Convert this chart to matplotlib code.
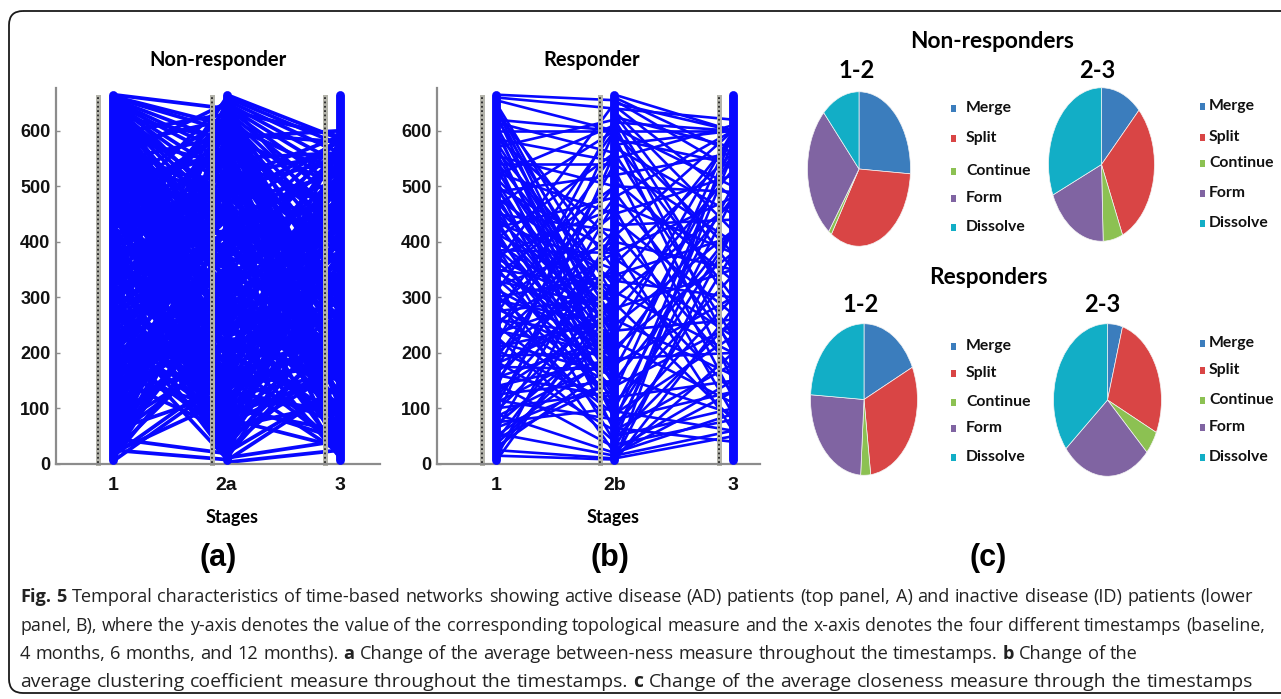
"""Fig. 5 重绘：两个时间网络面板 (a)(b) + 四个事件饼图 (c) + 图注。"""

import matplotlib
matplotlib.use("Agg")
import matplotlib.pyplot as plt
from matplotlib.collections import LineCollection
from matplotlib.patches import FancyBboxPatch, Rectangle


W, H = 1281, 699
BLUE = "#0808ff"
AXIS_GRAY = "#8c8c8c"
TICK_FONT = ["Liberation Sans", "DejaVu Sans"]
HEAD_FONT = ["Lato", "DejaVu Sans"]
CAPTION_FONT = ["Open Sans", "DejaVu Sans"]

# ---- 数据 ----
STAGE_LABELS_A = ["1", "2a", "3"]
STAGE_LABELS_B = ["1", "2b", "3"]
Y_TICKS = [0, 100, 200, 300, 400, 500, 600]
NODE_SPAN = (8, 664)      # 每个阶段的节点编号范围
LABEL_SPAN = (2, 660)     # 节点标签列

# 面板 a：阶段 1 -> 2a 的连边 (源节点, 目标节点)
A_EDGES_12 = [
    (665, 640), (662, 610), (660, 600), (657, 580), (655, 560), (652, 545), (650, 520), (648, 500),
    (645, 470), (642, 450), (640, 430), (637, 400), (635, 380), (632, 350), (630, 330), (627, 310),
    (625, 290), (622, 270), (620, 250), (618, 230), (615, 210), (612, 190), (610, 170), (608, 150),
    (605, 130), (603, 115), (600, 100), (598, 80),
    (595, 630), (590, 540), (585, 470), (580, 400), (575, 330), (570, 260), (565, 190), (560, 120),
    (555, 60), (550, 650), (545, 590), (540, 510), (535, 440), (530, 360), (525, 300), (520, 230),
    (515, 160), (510, 90), (505, 40), (500, 620),
    (495, 560), (490, 480), (485, 410), (480, 340), (475, 270), (470, 200), (465, 140), (460, 80),
    (455, 30), (450, 655), (445, 600), (440, 520), (435, 450), (430, 380), (425, 310), (420, 250),
    (415, 180), (410, 110), (405, 50), (400, 640),
    (395, 575), (390, 495), (385, 420), (380, 355), (375, 290), (370, 220), (365, 160), (360, 95),
    (355, 35), (350, 660), (345, 610), (340, 530), (335, 460), (330, 390), (325, 320), (320, 240),
    (315, 170), (310, 105), (305, 45), (300, 600),
    (295, 545), (290, 470), (285, 400), (280, 335), (275, 265), (270, 205), (265, 150), (260, 85),
    (255, 25), (250, 650), (245, 580), (240, 505), (235, 440), (230, 370), (225, 300), (220, 235),
    (215, 175), (210, 115), (205, 55), (200, 625),
    (195, 560), (190, 490), (185, 420), (180, 350), (175, 280), (170, 215), (165, 160), (160, 100),
    (155, 60), (150, 640), (145, 590), (140, 520), (135, 455), (130, 385), (125, 315), (120, 245),
    (115, 180), (100, 610),
    (90, 540), (85, 470), (80, 400), (75, 330), (70, 260), (65, 195), (60, 130), (46, 19),
    (50, 580), (45, 500), (40, 430), (35, 360), (30, 290), (25, 8), (20, 225), (15, 160),
    (10, 260), (5, 150), (3, 640), (20, 115),
    (648, 20), (590, 15), (530, 12), (470, 10), (410, 8), (350, 12), (290, 14), (230, 10),
    (658, 350), (612, 60), (572, 620), (538, 290), (498, 200), (468, 600), (442, 300), (412, 520),
    (388, 130), (362, 470), (338, 250), (318, 560), (292, 100), (268, 420), (242, 190), (218, 500),
    (192, 70), (168, 380), (142, 260), (118, 470), (96, 300), (72, 560), (48, 200), (28, 400),
    (12, 330), (632, 480), (582, 200), (548, 380), (512, 270), (478, 150), (452, 380), (428, 560),
    (398, 260), (372, 590), (342, 170), (312, 440), (282, 610), (252, 350), (222, 80), (198, 300),
    (664, 455), (646, 240), (628, 585), (606, 330), (588, 430), (568, 90), (552, 480), (532, 200),
    (508, 560), (488, 120), (472, 410), (448, 230), (432, 620), (408, 330), (392, 60), (378, 450),
    (352, 280), (332, 560), (308, 200), (288, 520), (262, 330), (238, 130), (212, 420), (188, 250),
    (162, 560), (138, 330), (112, 420), (88, 210), (62, 480), (38, 300), (18, 520), (8, 400),
]

# 面板 a：阶段 2a -> 3
A_EDGES_23 = [
    (665, 585), (660, 575), (655, 560), (650, 540), (645, 520), (640, 495), (635, 470), (630, 440),
    (625, 410), (620, 380), (615, 350), (610, 310), (605, 270), (600, 230), (662, 190), (657, 150),
    (652, 110), (647, 70), (642, 35), (637, 590),
    (595, 580), (590, 500), (585, 420), (580, 350), (575, 280), (570, 210), (565, 140), (560, 70),
    (555, 20), (550, 560), (545, 470), (540, 390), (535, 320), (530, 250), (525, 180), (520, 110),
    (515, 45), (510, 590), (505, 430), (500, 300),
    (495, 550), (490, 480), (485, 400), (480, 330), (475, 260), (470, 190), (465, 120), (460, 60),
    (455, 15), (450, 585), (445, 510), (440, 440), (435, 370), (430, 300), (425, 230), (420, 160),
    (415, 90), (410, 30), (405, 460), (400, 210),
    (395, 570), (390, 490), (385, 410), (380, 340), (375, 270), (370, 200), (365, 130), (360, 65),
    (355, 10), (350, 590), (345, 520), (340, 450), (335, 380), (330, 310), (325, 240), (320, 170),
    (315, 100), (310, 40), (305, 480), (300, 150),
    (295, 560), (290, 470), (285, 395), (280, 325), (275, 255), (270, 185), (265, 120), (260, 55),
    (255, 12), (250, 580), (245, 505), (240, 430), (235, 360), (230, 290), (225, 220), (220, 150),
    (215, 85), (210, 30), (205, 450), (200, 330),
    (195, 550), (190, 475), (185, 400), (180, 330), (175, 260), (170, 195), (165, 130), (160, 70),
    (155, 20), (150, 585), (145, 510), (140, 440), (135, 370), (130, 300), (125, 230), (120, 165),
    (115, 100), (110, 45), (105, 490), (100, 60),
    (95, 520), (90, 450), (85, 380), (80, 310), (75, 240), (70, 175), (65, 110), (82, 30),
    (50, 560), (45, 480), (40, 410), (35, 340), (30, 270), (25, 200), (20, 140), (11, 42),
    (6, 139), (5, 580), (3, 25),
    (648, 300), (618, 100), (588, 600), (552, 250), (518, 560), (482, 80), (448, 280), (418, 540),
    (392, 180), (362, 420), (332, 100), (308, 560), (282, 200), (258, 470), (232, 60), (208, 380),
    (182, 520), (158, 240), (132, 90), (108, 360), (88, 160), (62, 420), (38, 230), (18, 500),
    (8, 330), (628, 160), (578, 40), (542, 300), (508, 140), (472, 520), (438, 200), (402, 590),
    (378, 80), (342, 260), (298, 20), (262, 380), (228, 540), (188, 30), (142, 280),
    (658, 420), (632, 250), (612, 520), (592, 180), (568, 450), (548, 110), (528, 380), (498, 240),
    (478, 580), (458, 330), (432, 120), (412, 470), (388, 300), (368, 560), (338, 180), (318, 420),
    (292, 90), (272, 520), (248, 320), (222, 460), (198, 110), (172, 400), (148, 180), (122, 530),
    (98, 260), (72, 360), (48, 170), (28, 450), (14, 240),
]

# 面板 b：阶段 1 -> 2b
B_EDGES_12 = [
    (665, 655), (660, 640), (655, 600), (650, 300), (645, 250), (640, 210), (635, 350), (630, 180),
    (625, 280), (620, 600), (615, 560), (610, 230), (605, 150), (600, 600), (598, 190), (590, 400),
    (585, 545), (580, 260), (575, 140), (570, 620), (565, 320), (560, 200), (555, 500), (550, 100),
    (545, 280), (540, 540), (535, 160), (530, 230), (525, 450), (520, 610), (515, 300), (510, 180),
    (505, 80), (500, 380), (495, 250), (490, 520), (485, 140), (480, 330), (475, 210), (470, 60),
    (465, 600), (460, 270), (455, 170), (450, 420), (445, 240), (440, 120), (435, 350), (430, 200),
    (425, 480), (420, 90), (415, 300), (410, 160), (405, 560), (400, 250), (395, 40), (390, 200),
    (385, 380), (380, 130), (375, 460), (370, 270), (365, 180), (360, 650), (355, 100), (350, 320),
    (345, 230), (340, 500), (335, 150), (330, 280), (325, 20), (320, 400), (315, 200), (310, 600),
    (305, 120), (300, 340), (295, 250), (290, 70), (285, 450), (280, 180), (275, 300), (270, 560),
    (265, 140), (260, 230), (255, 380), (250, 90), (245, 500), (240, 200), (235, 310), (230, 40),
    (225, 420), (220, 160), (215, 620), (210, 260), (205, 110), (200, 350), (195, 200), (190, 480),
    (185, 60), (180, 280), (175, 170), (170, 540), (165, 320), (160, 120), (155, 230), (150, 400),
    (145, 30), (140, 190), (135, 600), (130, 270), (125, 150), (120, 360), (115, 80), (110, 220),
    (105, 470), (100, 130), (95, 300), (90, 20), (85, 190), (80, 560), (75, 100), (70, 250),
    (65, 150), (60, 420), (55, 15), (50, 200), (45, 150), (40, 330), (35, 240), (30, 180),
    (25, 10), (20, 280), (15, 8), (10, 420), (5, 300),
]

# 面板 b：阶段 2b -> 3
B_EDGES_23 = [
    (665, 600), (660, 560), (655, 530), (650, 600), (645, 480), (640, 620), (635, 420), (630, 350),
    (625, 570), (620, 280), (615, 600), (610, 200), (605, 500), (600, 600), (595, 380), (590, 150),
    (585, 540), (580, 300), (575, 600), (570, 450), (560, 230), (550, 610), (540, 400), (530, 120),
    (520, 560), (510, 330), (500, 490), (490, 210), (480, 600), (470, 380), (460, 90), (450, 520),
    (440, 270), (430, 440), (420, 170), (410, 600), (400, 350), (390, 60), (380, 480), (370, 230),
    (360, 560), (350, 130), (340, 410), (330, 300), (320, 590), (310, 200), (300, 470), (290, 80),
    (280, 350), (270, 530), (260, 160), (250, 420), (240, 260), (230, 600), (220, 110), (210, 380),
    (200, 480), (190, 200), (180, 300), (170, 560), (160, 90), (150, 420), (140, 250), (130, 600),
    (120, 150), (110, 340), (100, 500), (95, 60), (90, 230), (85, 420), (80, 130), (75, 580),
    (70, 300), (65, 40), (60, 180), (55, 480), (50, 100), (45, 260), (40, 560), (35, 80),
    (30, 380), (25, 150), (20, 90), (15, 60), (10, 50), (5, 280), (3, 600), (8, 420),
    (12, 200), (18, 130),
]

# 面板 c：事件类别与占比 (%)
EVENTS = ["Merge", "Split", "Continue", "Form", "Dissolve"]
EVENT_COLORS = ["#3b7dbd", "#d94545", "#8cc152", "#8064a2", "#12aec6"]
NR_12 = [26, 33, 1, 28, 12]
NR_23 = [12.5, 31, 6, 19, 31.5]
R_12 = [18, 30, 3, 25, 24]
R_23 = [4.5, 27.5, 5, 27, 36]

CAPTION_LINES = [
    [("Fig. 5", True),
     ("Temporal characteristics of time-based networks showing active disease (AD) patients "
      "(top panel, A) and inactive disease (ID) patients (lower", False)],
    [("panel, B), where the y-axis denotes the value of the corresponding topological measure "
      "and the x-axis denotes the four different timestamps (baseline,", False)],
    [("4 months, 6 months, and 12 months).", False), ("a", True),
     ("Change of the average between-ness measure throughout the timestamps.", False), ("b", True),
     ("Change of the", False)],
    [("average clustering coefficient measure throughout the timestamps.", False), ("c", True),
     ("Change of the average closeness measure through the timestamps", False)],
]
CAPTION_RIGHT = [1253, 1265, 1138, 1253]
CAPTION_Y = [597, 626, 654, 682]


def px_axes(fig, x0, y0, x1, y1):
    """按像素框 (左, 上, 右, 下) 建坐标轴。"""
    return fig.add_axes([x0 / W, 1 - y1 / H, (x1 - x0) / W, (y1 - y0) / H])


def plot_network(ax, edges12, edges23, stage_labels, xlim, label_off, lw):
    segs = [[(1, a), (2, b)] for a, b in edges12] + [[(2, a), (3, b)] for a, b in edges23]
    ax.add_collection(LineCollection(segs, colors=BLUE, linewidths=lw, capstyle="round", zorder=2))
    for s in (1, 2, 3):
        ax.plot([s, s], NODE_SPAN, color=BLUE, lw=6.4, solid_capstyle="round", zorder=3, clip_on=False)
        ax.plot([s - label_off] * 2, LABEL_SPAN, color="#b4b4ab", lw=3.6, zorder=2.4, clip_on=False)
        ax.plot([s - label_off] * 2, LABEL_SPAN, color="#262626", lw=1.3, ls=(0, (1, 1.4)), zorder=2.5,
                clip_on=False)
    ax.set_xlim(*xlim)
    ax.set_ylim(0, 677)
    for side in ("top", "right"):
        ax.spines[side].set_visible(False)
    for side in ("left", "bottom"):
        ax.spines[side].set_color(AXIS_GRAY)
        ax.spines[side].set_linewidth(1.6)
    ax.set_yticks(Y_TICKS)
    ax.set_yticklabels([str(v) for v in Y_TICKS], family=TICK_FONT, fontweight="bold", fontsize=13,
                       color="#111111")
    ax.set_xticks([1, 2, 3])
    ax.set_xticklabels(stage_labels, family=TICK_FONT, fontweight="bold", fontsize=14, color="#111111")
    ax.tick_params(axis="y", direction="in", length=3, width=1, color=AXIS_GRAY, pad=4)
    ax.tick_params(axis="x", length=0, pad=9)
    ax.set_facecolor("none")


def plot_pie(ax, values):
    ax.pie(values, colors=EVENT_COLORS, startangle=90, counterclock=False,
           wedgeprops=dict(linewidth=0.5, edgecolor="#f4f4f4"))
    ax.set_aspect("auto")
    ax.set_xlim(-1.01, 1.01)
    ax.set_ylim(-1.01, 1.01)
    ax.axis("off")


def draw_legend(ax0, x_mark, x_text, ys):
    for name, color, y in zip(EVENTS, EVENT_COLORS, ys):
        ax0.add_patch(Rectangle((x_mark - 2.5, y - 3.5), 5, 7, facecolor=color, edgecolor="none"))
        ax0.text(x_text, y, name, family=HEAD_FONT, fontweight="bold", fontsize=11.3, color="#111111",
                 ha="left", va="center")


def draw_caption(fig, ax0):
    """逐词排版：每行先按目标宽度定字号，再两端对齐。"""
    renderer = fig.canvas.get_renderer()
    probe = ax0.text(0, 0, "a a", family=CAPTION_FONT, fontsize=10)
    space10 = probe.get_window_extent(renderer).width
    probe.set_text("aa")
    space10 -= probe.get_window_extent(renderer).width
    probe.remove()
    for segs, y, x1 in zip(CAPTION_LINES, CAPTION_Y, CAPTION_RIGHT):
        words = [(w, b) for s, b in segs for w in s.split()]
        texts = [ax0.text(0, y, w, family=CAPTION_FONT, fontsize=10, color="#222222",
                          fontweight="bold" if b else "normal", ha="left", va="center") for w, b in words]
        natural = sum(t.get_window_extent(renderer).width for t in texts) + (len(texts) - 1) * space10
        size = min(10 * (x1 - 20) / natural, 14.3)
        for t in texts:
            t.set_fontsize(size)
        widths = [t.get_window_extent(renderer).width for t in texts]
        gap = (x1 - 20 - sum(widths)) / (len(texts) - 1)
        x = 20
        for t, w in zip(texts, widths):
            t.set_x(x)
            x += w + gap


def main():
    fig = plt.figure(figsize=(W / 100, H / 100), dpi=100)
    ax0 = fig.add_axes([0, 0, 1, 1])
    ax0.set_xlim(0, W)
    ax0.set_ylim(H, 0)
    ax0.axis("off")
    ax0.add_patch(FancyBboxPatch((9, 11), 1300, 682, boxstyle="round,pad=0,rounding_size=14",
                                 facecolor="none", edgecolor="#1a1a1a", linewidth=1.3))

    ax_a = px_axes(fig, 56, 88, 380, 464)
    plot_network(ax_a, A_EDGES_12, A_EDGES_23, STAGE_LABELS_A, (0.498, 3.352), 0.132, 2.7)
    ax_b = px_axes(fig, 437, 88, 760, 464)
    plot_network(ax_b, B_EDGES_12, B_EDGES_23, STAGE_LABELS_B, (0.502, 3.228), 0.122, 1.9)

    for x, title in [(218, "Non-responder"), (592, "Responder")]:
        ax0.text(x, 60, title, family=HEAD_FONT, fontweight="bold", fontsize=14.5, ha="center", va="center")
    for x in (232, 613):
        ax0.text(x, 517, "Stages", family=HEAD_FONT, fontweight="bold", fontsize=13, ha="center", va="center")
    for x, tag in [(218, "(a)"), (610, "(b)"), (988, "(c)")]:
        ax0.text(x, 558, tag, family=["Liberation Sans", "DejaVu Sans"], fontweight="bold", fontsize=22,
                 ha="center", va="center")

    # 饼图：外接椭圆的像素框
    plot_pie(px_axes(fig, 807, 91, 911, 247), NR_12)
    plot_pie(px_axes(fig, 1048, 87, 1155, 242), NR_23)
    plot_pie(px_axes(fig, 810, 323, 918, 476), R_12)
    plot_pie(px_axes(fig, 1053, 323, 1162, 477), R_23)

    ax0.text(992, 41, "Non-responders", family=HEAD_FONT, fontweight="bold", fontsize=16.3, ha="center", va="center")
    ax0.text(988, 277, "Responders", family=HEAD_FONT, fontweight="bold", fontsize=16.3, ha="center", va="center")
    for x, y, s in [(857, 70, "1-2"), (1097, 70, "2-3"), (861, 305, "1-2"), (1102, 305, "2-3")]:
        ax0.text(x, y, s, family=HEAD_FONT, fontweight="bold", fontsize=17, ha="center", va="center")

    draw_legend(ax0, 953, 966, [108, 138, 171, 198, 227])
    draw_legend(ax0, 1202, 1209, [106, 137, 163, 193, 223])
    draw_legend(ax0, 953, 966, [346, 373, 402, 428, 457])
    draw_legend(ax0, 1202, 1209, [343, 370, 400, 427, 457])

    draw_caption(fig, ax0)
    fig.savefig("out.png", dpi=100)
    plt.close(fig)


if __name__ == "__main__":
    main()
